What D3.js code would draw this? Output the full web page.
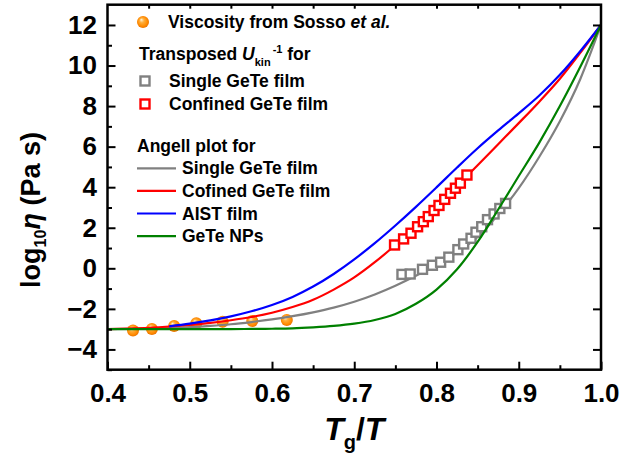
<!DOCTYPE html>
<html>
<head>
<meta charset="utf-8">
<script src="https://cdn.jsdelivr.net/npm/d3@7"></script>
<style>
  body { margin: 0; background: #fff; }
  svg { font-family: "Liberation Sans", Arial, sans-serif; font-weight: bold; }
</style>
</head>
<body>
<script>
// Angell plot curves, shared Tg/T grid
const tgT = [0.400,0.425,0.450,0.475,0.500,0.525,0.550,0.575,0.600,0.625,0.650,0.675,0.700,0.725,0.750,0.775,0.800,0.825,0.850,0.875,0.900,0.925,0.950,0.975,1.000];
const singleFilm   = [-3.00,-2.99,-2.97,-2.94,-2.90,-2.84,-2.76,-2.65,-2.52,-2.36,-2.17,-1.94,-1.65,-1.29,-0.86,-0.37,0.17,0.79,1.55,2.65,3.95,5.50,7.25,9.35,12.0];
const confinedFilm = [-3.00,-2.97,-2.93,-2.87,-2.79,-2.69,-2.56,-2.40,-2.19,-1.91,-1.55,-1.05,-0.45,0.30,1.15,2.07,3.05,4.06,5.08,6.12,7.16,8.22,9.35,10.64,12.0];
const geteNPs      = [-3.00,-3.00,-3.00,-3.00,-3.00,-3.00,-3.00,-2.99,-2.98,-2.96,-2.91,-2.84,-2.73,-2.55,-2.25,-1.75,-1.05,-0.05,1.30,2.90,4.55,6.20,8.00,9.95,12.0];
const aistT    = [0.475,0.500,0.525,0.550,0.575,0.600,0.625,0.650,0.675,0.700,0.725,0.750,0.775,0.800,0.825,0.850,0.875,0.900,0.925,0.950,0.975,1.000];
const aistFilm = [-2.86,-2.73,-2.57,-2.37,-2.12,-1.81,-1.41,-0.90,-0.28,0.44,1.24,2.11,3.03,3.99,4.97,5.92,6.80,7.64,8.52,9.54,10.72,12.0];

// viscosity from Sosso et al.
const sossoT   = [0.431,0.454,0.481,0.508,0.540,0.576,0.618];
const sossoEta = [-3.07,-2.99,-2.84,-2.71,-2.63,-2.60,-2.55];

// transposed U_kin^-1
const singleT = [0.758,0.768,0.783,0.795,0.805,0.815,0.826,0.833,0.842,0.848,0.855,0.862,0.870,0.877,0.884];
const singleU = [-0.30,-0.28,-0.05,0.15,0.30,0.55,0.92,1.20,1.48,1.78,2.05,2.40,2.68,2.95,3.20];
const confT = [0.749,0.760,0.769,0.777,0.784,0.790,0.797,0.803,0.810,0.817,0.823,0.829,0.837];
const confU = [1.15,1.45,1.73,2.05,2.30,2.55,2.85,3.10,3.40,3.70,3.95,4.20,4.60];

const xMajor = [0.4,0.5,0.6,0.7,0.8,0.9,1.0];
const yMajor = [-4,-2,0,2,4,6,8,10,12];

const W = 638, H = 456;
const L = 107.5, R = 601, T = 4.7, B = 369.7;

const svg = d3.select("body").append("svg").attr("width", W).attr("height", H);

const x = d3.scaleLinear().domain([0.4, 1.0]).range([L, R]);
const y = d3.scaleLinear().domain([-5, 13]).range([B, T]);

const defs = svg.append("defs");
const grad = defs.append("radialGradient").attr("id", "ball")
  .attr("cx", "50%").attr("cy", "50%").attr("r", "55%").attr("fx", "35%").attr("fy", "30%");
grad.append("stop").attr("offset", "0%").attr("stop-color", "#fff4dc");
grad.append("stop").attr("offset", "35%").attr("stop-color", "#ffae3a");
grad.append("stop").attr("offset", "75%").attr("stop-color", "#ff8a00");
grad.append("stop").attr("offset", "100%").attr("stop-color", "#e06a00");

const zip = (xs, ys) => xs.map((v, i) => [v, ys[i]]);
const line = d3.line().x(d => x(d[0])).y(d => y(d[1])).curve(d3.curveMonotoneX);

// dots beneath lines
svg.append("g").selectAll("circle").data(zip(sossoT, sossoEta)).join("circle")
  .attr("cx", d => x(d[0])).attr("cy", d => y(d[1])).attr("r", 6)
  .attr("fill", "url(#ball)");

const curves = [
  {data: zip(tgT, singleFilm), color: "#808080"},
  {data: zip(tgT, confinedFilm), color: "#ff0000"},
  {data: zip(aistT, aistFilm), color: "#0000ff"}
];
svg.append("g").selectAll("path").data(curves).join("path")
  .attr("d", d => line(d.data)).attr("fill", "none")
  .attr("stroke", d => d.color).attr("stroke-width", 2.2);

function squares(data, color) {
  svg.append("g").selectAll("rect").data(data).join("rect")
    .attr("x", d => x(d[0]) - 4.5).attr("y", d => y(d[1]) - 4.5)
    .attr("width", 9).attr("height", 9)
    .attr("fill", "#fff").attr("stroke", color).attr("stroke-width", 2.4);
}
squares(zip(singleT, singleU), "#808080");
squares(zip(confT, confU), "#ff0000");

svg.append("path").attr("d", line(zip(tgT, geteNPs))).attr("fill", "none")
  .attr("stroke", "#008000").attr("stroke-width", 2.2);

// axes, ticks inward
const bottomMinor = d3.axisBottom(x).tickValues(d3.range(0.45, 1.0, 0.1)).tickSize(-4.5).tickFormat("").tickSizeOuter(0);
const bottomMajor = d3.axisBottom(x).tickValues(xMajor).tickSize(-8).tickPadding(14).tickFormat(d3.format(".1f")).tickSizeOuter(0);
const leftMinor = d3.axisLeft(y).tickValues(d3.range(-5, 13, 2)).tickSize(-4.5).tickFormat("").tickSizeOuter(0);
const leftMajor = d3.axisLeft(y).tickValues(yMajor).tickSize(-8).tickPadding(10.5).tickSizeOuter(0);
const topTicks = d3.axisTop(x).tickValues(d3.range(0.45, 1.0, 0.05)).tickSize(-4).tickFormat("").tickSizeOuter(0);
const rightTicks = d3.axisRight(y).tickValues(yMajor).tickSize(-8).tickFormat("").tickSizeOuter(0);

function put(axis, tx, ty) {
  const g = svg.append("g").attr("transform", `translate(${tx},${ty})`).call(axis);
  g.select(".domain").remove();
  g.selectAll("line").attr("stroke", "#000").attr("stroke-width", 2);
  g.selectAll("text").attr("font-size", 26).attr("font-weight", "bold")
    .attr("font-family", "'Liberation Sans', Arial, sans-serif").attr("fill", "#000");
  return g;
}
put(bottomMinor, 0, B);
put(bottomMajor, 0, B);
put(leftMinor, L, 0);
put(leftMajor, L, 0);
put(topTicks, 0, T);
put(rightTicks, R, 0);

svg.append("rect").attr("x", L).attr("y", T).attr("width", R - L).attr("height", B - T)
  .attr("fill", "none").attr("stroke", "#000").attr("stroke-width", 2.5);

// axis titles
const xt = svg.append("text").attr("x", (L + R) / 2).attr("y", 440)
  .attr("text-anchor", "middle").attr("font-size", 32);
xt.append("tspan").attr("font-style", "italic").text("T");
xt.append("tspan").attr("font-size", 20).attr("dy", 9).text("g");
xt.append("tspan").attr("dy", -9).text("/");
xt.append("tspan").attr("font-style", "italic").text("T");

const yt = svg.append("text").attr("transform", "translate(40,210) rotate(-90)")
  .attr("text-anchor", "middle").attr("font-size", 27);
yt.append("tspan").text("log");
yt.append("tspan").attr("font-size", 16).attr("dy", 6).text("10");
yt.append("tspan").attr("dy", -6).attr("font-style", "italic").text("η");
yt.append("tspan").text(" (Pa s)");

// legend
const lg = svg.append("g").attr("font-size", 17.5);
lg.append("circle").attr("cx", 143).attr("cy", 22).attr("r", 6).attr("fill", "url(#ball)");
const t1 = lg.append("text").attr("x", 168).attr("y", 28);
t1.append("tspan").text("Viscosity from Sosso ");
t1.append("tspan").attr("font-style", "italic").text("et al.");

const t2 = lg.append("text").attr("x", 139).attr("y", 60);
t2.append("tspan").text("Transposed ");
t2.append("tspan").attr("font-style", "italic").text("U");
t2.append("tspan").attr("font-size", 11).attr("dy", 6).text("kin");
t2.append("tspan").attr("font-size", 11).attr("dy", -13).attr("dx", 2).text("-1");
t2.append("tspan").attr("dy", 7).text(" for");

const sqLegend = [["Single GeTe film", "#808080", 81], ["Confined GeTe film", "#ff0000", 104]];
sqLegend.forEach(([label, c, cy]) => {
  lg.append("rect").attr("x", 140.5).attr("y", cy - 4.5).attr("width", 9).attr("height", 9)
    .attr("fill", "#fff").attr("stroke", c).attr("stroke-width", 2.4);
  lg.append("text").attr("x", 169).attr("y", cy + 6).text(label);
});

lg.append("text").attr("x", 137).attr("y", 152).text("Angell plot for");
const lineLegend = [["Single GeTe film", "#808080"], ["Cofined GeTe film", "#ff0000"], ["AIST film", "#0000ff"], ["GeTe NPs", "#008000"]];
lineLegend.forEach(([label, c], i) => {
  const cy = 168.3 + i * 22.6;
  lg.append("line").attr("x1", 137).attr("x2", 176).attr("y1", cy).attr("y2", cy)
    .attr("stroke", c).attr("stroke-width", 2.2);
  lg.append("text").attr("x", 182).attr("y", cy + 6).text(label);
});
</script>
</body>
</html>
